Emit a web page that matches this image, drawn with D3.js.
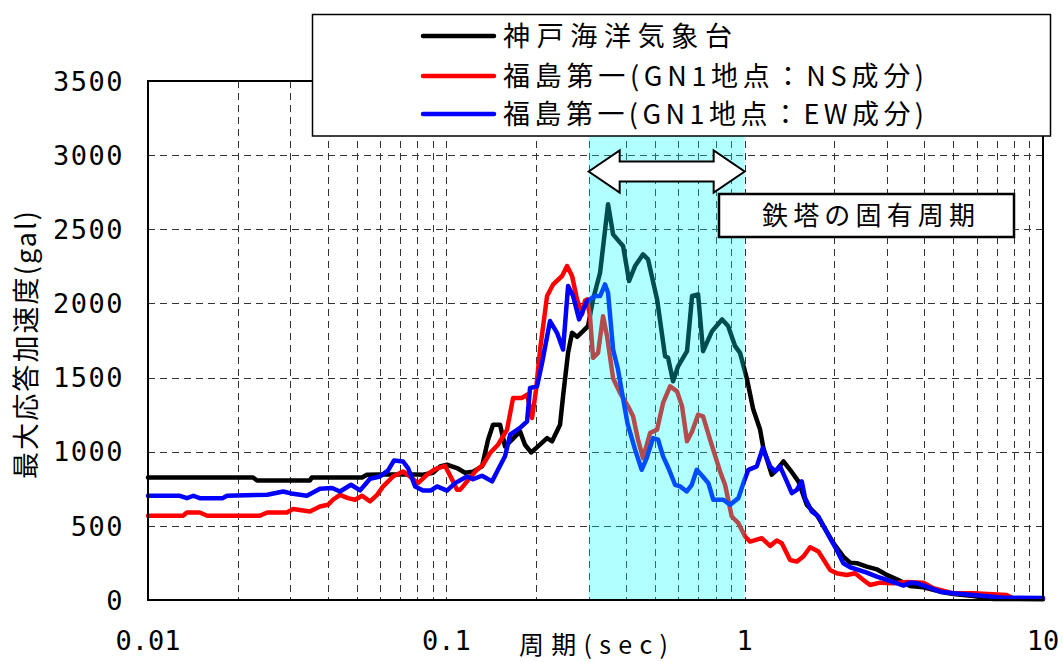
<!DOCTYPE html>
<html>
<head>
<meta charset="utf-8">
<script src="https://cdn.jsdelivr.net/npm/d3@7"></script>
<style>
  html, body { margin: 0; padding: 0; background: #fff }
  svg { display: block }
  text { font-family: "Noto Sans CJK JP", "Noto Sans", sans-serif; fill: #000 }
  .num { font-family: "DejaVu Sans Mono", "Liberation Mono", monospace }
</style>
</head>
<body>
<svg id="chart" width="1062" height="662"></svg>
<script>
// [period (sec), max response acceleration (gal)]
const kobe = [
  [0.01, 826], [0.0225, 826], [0.0232, 806], [0.0349, 806], [0.0354, 826], [0.0522, 826],
  [0.0542, 845], [0.0599, 846], [0.0798, 846], [0.0835, 845], [0.0902, 858], [0.0953, 901],
  [0.1005, 912], [0.1086, 890], [0.1155, 858], [0.1229, 865], [0.1317, 901], [0.138, 1081],
  [0.1434, 1182], [0.1514, 1182], [0.1573, 1036], [0.1661, 1081], [0.1766, 1137], [0.1835, 1047],
  [0.1923, 995], [0.2029, 1036], [0.2176, 1092], [0.2262, 1070], [0.2405, 1182], [0.2462, 1374],
  [0.2559, 1667], [0.2639, 1802], [0.2743, 1775], [0.2873, 1813], [0.2985, 1847], [0.3103, 2027],
  [0.3276, 2207], [0.3484, 2669], [0.3622, 2466], [0.3823, 2410], [0.3913, 2387], [0.4098, 2151],
  [0.4292, 2252], [0.4564, 2331], [0.4745, 2297], [0.5087, 2027], [0.5411, 1644], [0.5537, 1633],
  [0.5754, 1475], [0.598, 1576], [0.641, 1678], [0.6664, 2050], [0.698, 2061], [0.7254, 1678],
  [0.7776, 1813], [0.84, 1892], [0.88, 1847], [0.929, 1712], [0.965, 1667], [1.019, 1486],
  [1.067, 1290], [1.126, 1150], [1.155, 1025], [1.233, 845], [1.281, 878], [1.349, 935],
  [1.42, 878], [1.514, 800], [1.615, 642], [1.744, 574], [1.984, 383], [2.142, 293],
  [2.257, 252], [2.376, 248], [2.567, 225], [2.773, 207], [2.996, 169], [3.236, 140],
  [3.585, 95], [3.973, 86], [4.52, 56], [5.01, 41], [5.845, 27], [6.82, 7], [10, 5]
]

const fukushimaNS = [
  [0.01, 568], [0.0131, 568], [0.0135, 590], [0.0149, 590], [0.0158, 568], [0.0237, 568],
  [0.0251, 590], [0.0292, 590], [0.0306, 613], [0.0349, 597], [0.0377, 631], [0.0401, 642],
  [0.0417, 676], [0.044, 709], [0.0468, 687], [0.0494, 676], [0.0522, 703], [0.0555, 665],
  [0.0586, 709], [0.0614, 766], [0.0663, 833], [0.0716, 867], [0.0755, 833], [0.0804, 788],
  [0.0862, 845], [0.0917, 883], [0.099, 905], [0.1053, 800], [0.1086, 743], [0.1112, 743],
  [0.1173, 800], [0.1267, 879], [0.1327, 912], [0.1401, 991], [0.149, 1047], [0.1598, 1149],
  [0.1674, 1363], [0.1794, 1363], [0.1865, 1385], [0.1938, 1227], [0.1999, 1419], [0.2062, 1689],
  [0.2176, 2050], [0.228, 2128], [0.2443, 2185], [0.2539, 2252], [0.2639, 2185], [0.2743, 2027],
  [0.2851, 1926], [0.2917, 2020], [0.2963, 2027], [0.3031, 1914], [0.3103, 1633], [0.3226, 1667],
  [0.3352, 1914], [0.3457, 1779], [0.3622, 1496], [0.3823, 1396], [0.4066, 1306], [0.4226, 1239],
  [0.4391, 1081], [0.4564, 957], [0.4818, 1126], [0.5087, 1149], [0.5327, 1329], [0.5623, 1441],
  [0.5935, 1407], [0.6168, 1306], [0.641, 1070], [0.6664, 1137], [0.698, 1250], [0.7254, 1239],
  [0.7656, 1081], [0.827, 867], [0.8596, 777], [0.905, 563], [0.9526, 518], [1.003, 428],
  [1.0425, 394], [1.141, 417], [1.217, 365], [1.281, 401], [1.332, 383], [1.42, 270],
  [1.495, 259], [1.573, 293], [1.657, 356], [1.767, 327], [1.933, 203], [2.035, 180],
  [2.199, 169], [2.345, 180], [2.5, 135], [2.633, 101], [2.844, 117], [3.151, 113],
  [3.495, 122], [3.973, 117], [4.292, 79], [5.01, 45], [5.845, 45], [7.56, 34], [7.94, 11], [10, 10]
]

const fukushimaEW = [
  [0.01, 703], [0.0128, 703], [0.0135, 687], [0.0142, 703], [0.0149, 687], [0.0178, 687],
  [0.0184, 703], [0.0251, 710], [0.0284, 732], [0.0306, 716], [0.0341, 703], [0.0377, 750],
  [0.0414, 755], [0.044, 732], [0.0479, 777], [0.0514, 739], [0.0555, 818], [0.0599, 833],
  [0.0638, 874], [0.0668, 941], [0.0716, 934], [0.0744, 890], [0.0786, 766], [0.0835, 739],
  [0.0889, 739], [0.0931, 766], [0.1005, 738], [0.107, 788], [0.1173, 833], [0.1229, 815],
  [0.1317, 838], [0.1423, 800], [0.149, 879], [0.1573, 969], [0.1636, 1115], [0.1766, 1160],
  [0.1865, 1205], [0.1908, 1430], [0.2014, 1441], [0.2094, 1599], [0.2226, 1881], [0.235, 1802],
  [0.2462, 1689], [0.2559, 2117], [0.266, 2050], [0.2786, 1892], [0.2963, 2016], [0.3152, 2050],
  [0.3276, 2050], [0.3404, 2128], [0.3484, 2072], [0.3622, 1689], [0.3763, 1554], [0.3882, 1396],
  [0.405, 1190], [0.4292, 1014], [0.4517, 878], [0.4696, 957], [0.4932, 1092], [0.5126, 1081],
  [0.5327, 969], [0.555, 890], [0.5845, 777], [0.6074, 766], [0.6397, 732], [0.6648, 777],
  [0.6909, 878], [0.7236, 833], [0.7556, 788], [0.7852, 676], [0.8483, 676], [0.8933, 642],
  [0.9526, 687], [0.99, 788], [1.029, 878], [1.098, 901], [1.15, 1025], [1.217, 901],
  [1.264, 867], [1.314, 901], [1.384, 800], [1.439, 721], [1.495, 743], [1.554, 800],
  [1.594, 687], [1.678, 597], [1.767, 563], [1.933, 417], [2.035, 338], [2.142, 248],
  [2.257, 221], [2.376, 207], [2.567, 185], [2.773, 158], [2.996, 135], [3.236, 113],
  [3.404, 97], [3.585, 117], [3.776, 113], [4.078, 90], [4.52, 56], [5.01, 45],
  [5.845, 34], [7.37, 16], [10, 14]
]

const yTicks = [0, 500, 1000, 1500, 2000, 2500, 3000, 3500]
const xTicks = [0.01, 0.1, 1, 10]
const xTickLabels = ['0.01', '0.1', '1', '10']
const seriesNames = ['神戸海洋気象台', '福島第一(GN1地点：NS成分)', '福島第一(GN1地点：EW成分)']
const seriesColors = ['#000000', '#ff0000', '#0000ff']
const towerBand = [0.3, 1.0]
const towerLabel = '鉄塔の固有周期'
const xTitle = '周期(sec)'
const yTitle = '最大応答加速度(gal)'

const W = 1062
const H = 662
const plot = { left: 148, right: 1043, top: 81, bottom: 600 }

const x = d3.scaleLog().domain([0.01, 10]).range([plot.left, plot.right])
const y = d3.scaleLinear().domain([0, 3500]).range([plot.bottom, plot.top])

const svg = d3.select('#chart')
svg.append('rect').attr('width', W).attr('height', H).attr('fill', '#fff')

// dashed grid
const grid = svg.append('g')
  .attr('stroke', '#333')
  .attr('stroke-width', 1)
  .attr('stroke-dasharray', '7,5')
  .attr('shape-rendering', 'crispEdges')

grid.selectAll('line.v')
  .data(x.ticks().filter(t => t > 0.0100001 && t < 9.9999))
  .join('line')
  .attr('class', 'v')
  .attr('x1', d => Math.round(x(d)) + 0.5).attr('x2', d => Math.round(x(d)) + 0.5)
  .attr('y1', plot.top).attr('y2', plot.bottom)

grid.selectAll('line.h')
  .data(yTicks.slice(1, -1))
  .join('line')
  .attr('class', 'h')
  .attr('x1', plot.left).attr('x2', plot.right)
  .attr('y1', d => Math.round(y(d)) + 0.5).attr('y2', d => Math.round(y(d)) + 0.5)

// series
const line = d3.line().x(d => x(d[0])).y(d => y(d[1]))
const series = [kobe, fukushimaNS, fukushimaEW]

svg.append('g')
  .selectAll('path')
  .data(series)
  .join('path')
  .attr('d', line)
  .attr('fill', 'none')
  .attr('stroke', (d, i) => seriesColors[i])
  .attr('stroke-width', 4.5)
  .attr('stroke-linejoin', 'round')
  .attr('stroke-linecap', 'round')

// natural period band of the tower, drawn over the lines
svg.append('rect')
  .attr('x', x(towerBand[0]))
  .attr('y', plot.top)
  .attr('width', x(towerBand[1]) - x(towerBand[0]))
  .attr('height', plot.bottom - plot.top)
  .attr('fill', 'rgb(0,255,255)')
  .attr('fill-opacity', 0.3)

// plot frame
svg.append('rect')
  .attr('x', plot.left).attr('y', plot.top)
  .attr('width', plot.right - plot.left).attr('height', plot.bottom - plot.top)
  .attr('fill', 'none')
  .attr('stroke', '#000')
  .attr('stroke-width', 2)

// y axis labels
svg.append('g')
  .selectAll('text')
  .data(yTicks)
  .join('text')
  .attr('class', 'num')
  .attr('x', 124)
  .attr('y', d => y(d))
  .attr('dy', '0.36em')
  .attr('text-anchor', 'end')
  .attr('font-size', 27)
  .attr('letter-spacing', 1.5)
  .text(d => d)

// x axis labels
svg.append('g')
  .selectAll('text')
  .data(xTicks)
  .join('text')
  .attr('class', 'num')
  .attr('x', d => x(d))
  .attr('y', 650)
  .attr('text-anchor', 'middle')
  .attr('font-size', 27)
  .text((d, i) => xTickLabels[i])

svg.append('text')
  .attr('x', 519)
  .attr('y', 654)
  .attr('font-size', 25)
  .attr('textLength', 149)
  .attr('lengthAdjust', 'spacing')
  .text(xTitle)

svg.append('text')
  .attr('transform', 'translate(36,479) rotate(-90)')
  .attr('font-size', 27)
  .attr('textLength', 268)
  .attr('lengthAdjust', 'spacing')
  .text(yTitle)

// legend
const legend = svg.append('g')
legend.append('rect')
  .attr('x', 312.5).attr('y', 14.5)
  .attr('width', 738).attr('height', 121.5)
  .attr('fill', '#fff')
  .attr('stroke', '#000')
  .attr('stroke-width', 1.5)

const legendY = [36, 76, 114]
const legendLen = [229, 421, 421]
seriesNames.forEach((name, i) => {
  legend.append('line')
    .attr('x1', 423).attr('x2', 494)
    .attr('y1', legendY[i]).attr('y2', legendY[i])
    .attr('stroke', seriesColors[i])
    .attr('stroke-width', 4.5)
    .attr('stroke-linecap', 'round')
  legend.append('text')
    .attr('x', 503)
    .attr('y', legendY[i])
    .attr('dy', '0.36em')
    .attr('font-size', 27)
    .attr('textLength', legendLen[i])
    .attr('lengthAdjust', 'spacing')
    .text(name)
})

// double arrow over the band
const ax0 = x(towerBand[0])
const ax1 = x(towerBand[1])
const ay = 171.5
const head = 31
const headH = 21
const shaftH = 10
const arrow = [
  [ax0, ay], [ax0 + head, ay - headH], [ax0 + head, ay - shaftH], [ax1 - head, ay - shaftH],
  [ax1 - head, ay - headH], [ax1, ay], [ax1 - head, ay + headH], [ax1 - head, ay + shaftH],
  [ax0 + head, ay + shaftH], [ax0 + head, ay + headH]
]
svg.append('path')
  .attr('d', 'M' + arrow.map(p => p.join(',')).join('L') + 'Z')
  .attr('fill', '#fff')
  .attr('stroke', '#000')
  .attr('stroke-width', 2)
  .attr('stroke-linejoin', 'miter')

// label box
svg.append('rect')
  .attr('x', 719).attr('y', 194)
  .attr('width', 295).attr('height', 43)
  .attr('fill', '#fff')
  .attr('stroke', '#000')
  .attr('stroke-width', 2.5)

svg.append('text')
  .attr('x', 762)
  .attr('y', 215.5)
  .attr('dy', '0.36em')
  .attr('font-size', 26)
  .attr('textLength', 213)
  .attr('lengthAdjust', 'spacing')
  .text(towerLabel)
</script>
</body>
</html>
